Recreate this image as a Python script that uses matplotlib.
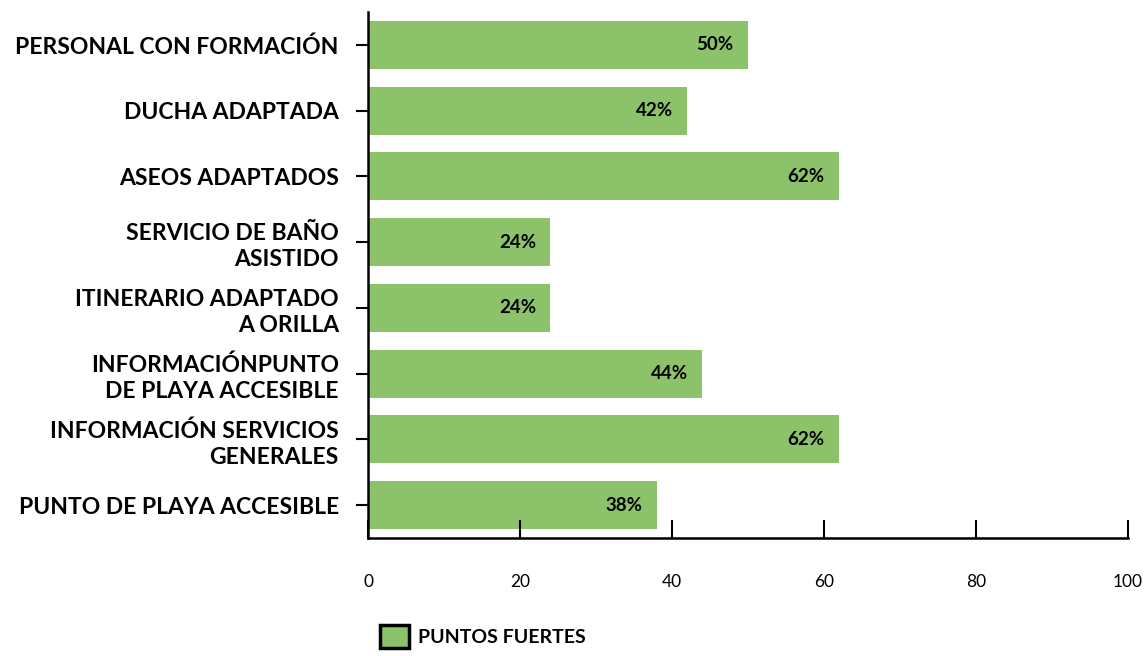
import matplotlib
matplotlib.use("Agg")
import matplotlib.pyplot as plt
import matplotlib.patches as mpatches

# ── Data ──────────────────────────────────────────────────────────────────────
categories = [
    "PERSONAL CON FORMACIÓN",
    "DUCHA ADAPTADA",
    "ASEOS ADAPTADOS",
    "SERVICIO DE BAÑO\nASISTIDO",
    "ITINERARIO ADAPTADO\nA ORILLA",
    "INFORMACIÓNPUNTO\nDE PLAYA ACCESIBLE",
    "INFORMACIÓN SERVICIOS\nGENERALES",
    "PUNTO DE PLAYA ACCESIBLE",
]
values = [50, 42, 62, 24, 24, 44, 62, 38]
x_ticks = [0, 20, 40, 60, 80, 100]
series_label = "PUNTOS FUERTES"

GREEN = "#8cc26a"

plt.rcParams["font.family"] = ["Lato", "DejaVu Sans"]

fig = plt.figure(figsize=(11.45, 6.56), dpi=100)
ax = fig.add_axes([0.3214, 0.180, 0.6638, 0.8017])

ypos = list(range(len(categories)))
bars = ax.barh(ypos, values, height=0.73, color=GREEN, edgecolor="none")

for bar, v in zip(bars, values):
    ax.text(bar.get_width() - 1.9, bar.get_y() + bar.get_height() / 2, f"{v}%",
            ha="right", va="center", fontsize=13.5, fontweight="bold", color="black")

ax.set_ylim(len(categories) - 0.5, -0.5)
ax.set_xlim(0, 100)
ax.set_yticks(ypos)
ax.set_yticklabels(categories, fontsize=16.5, fontweight="bold", linespacing=1.3)
ax.set_xticks(x_ticks)
ax.set_xticklabels([str(t) for t in x_ticks], fontsize=12.5)

ax.tick_params(axis="y", direction="out", length=9, width=1.5, pad=12, color="black")
ax.tick_params(axis="x", direction="in", length=13, width=1.5, pad=26)

for side in ("top", "right"):
    ax.spines[side].set_visible(False)
for side in ("left", "bottom"):
    ax.spines[side].set_linewidth(1.8)

patch = mpatches.Patch(facecolor=GREEN, edgecolor="black", linewidth=2.5, label=series_label)
fig.legend(handles=[patch], loc="lower left", bbox_to_anchor=(0.317, -0.015),
           frameon=False, handlelength=1.45, handleheight=1.45, handletextpad=0.5,
           prop={"weight": "bold", "size": 14})

fig.savefig("out.png", dpi=100)
plt.close(fig)
